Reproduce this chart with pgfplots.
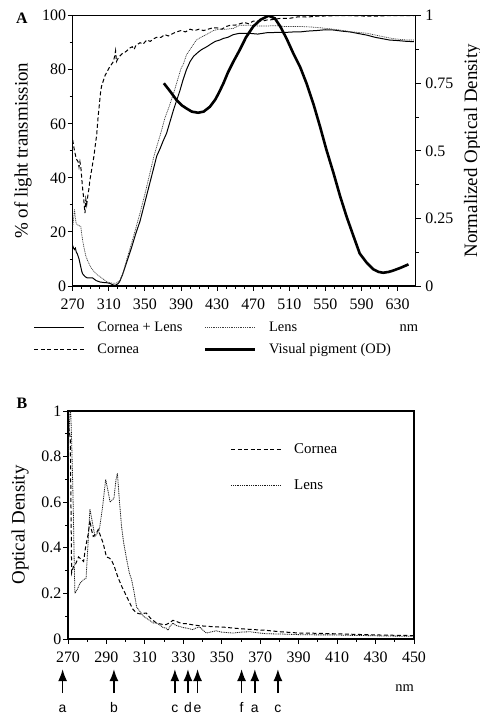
\documentclass[border=0pt]{standalone}
\usepackage{fontspec}
\setmainfont{Liberation Serif}
\setsansfont{Liberation Sans}
\usepackage{pgfplots}
\pgfplotsset{compat=1.18}
\usetikzlibrary{arrows.meta}

\pgfplotsset{
  myax/.style={
    scale only axis,
    /pgf/number format/assume math mode=true,
    tick align=outside,
    major tick length=5bp,
    minor tick length=3bp,
    axis line style={line width=1.1bp},
    every tick/.style={line width=0.9bp, black},
    ticklabel style={font=\fontsize{16}{18}\selectfont, inner sep=1.5bp},
    label style={font=\fontsize{19}{22}\selectfont},
  },
  corneastyle/.style={black, line width=1bp, dash pattern=on 4bp off 2.5bp},
  lensstyle/.style={black!75, line width=0.7bp, dash pattern=on 1bp off 0.8bp},
  clstyle/.style={black, line width=1bp},
  vpstyle/.style={black, line width=2.6bp},
}

\begin{document}
\begin{tikzpicture}
\useasboundingbox (0,0) rectangle (480bp,714bp);

% ---------------- Panel A ----------------
\begin{axis}[myax,
  at={(72.7bp,428bp)}, anchor=south west,
  width=343bp, height=270.3bp,
  xmin=270, xmax=650, ymin=0, ymax=100,
  xtick={270,310,...,630}, minor x tick num=3,
  ytick={0,20,...,100}, minor y tick num=1,
  xtick pos=bottom, ytick pos=left,
  xticklabel style={yshift=-6bp},
  ylabel={\% of light transmission},
  ylabel style={at={(axis description cs:0,0.5)}, yshift=49.7bp, anchor=center},
  clip mode=individual,
  legend columns=2,
  legend cell align=left,
  legend image code/.code={\draw[#1] (0bp,0bp) -- (50bp,0bp);},
  legend style={at={(axis description cs:0,0)}, anchor=north west,
    xshift=-39bp, yshift=-34bp, draw=none, fill=none, inner sep=0pt,
    font=\fontsize{14.5}{16}\selectfont,
    nodes={inner sep=1.5bp},
    row sep=8bp,
    /tikz/every odd column/.append style={column sep=11bp},
    /tikz/every even column/.append style={column sep=20bp}},
]
% Cornea + Lens
\addplot[clstyle] coordinates {
(270,15) (271,14) (272,13.5) (273,14) (274,12.5) (275,12) (276,11) (277,10) (278,8.5)
(279,7) (280,5.5) (281,4.5) (283.6,3.5) (286,3) (289,3) (292,3) (296,2) (300,1.5)
(304,1.3) (307.7,1.2) (311,1) (314,0.5) (317,0.2) (320,0.8) (322,1.6) (325,4) (330,9)
(335,14) (340,19.5) (344.6,24) (350,31) (355,37.5) (360,44) (363,48) (367,51)
(370,53.5) (374,56.5) (378,61) (382,65.5) (386,69.5) (389,72.5) (392,76) (396,80)
(400,83) (404,85) (409,86.5) (413,87.5) (418.5,88.5) (423,89.5) (428,90.5) (433,91)
(437,91.6) (442,92) (448,93) (455,93.5) (465,93.5) (475,93.2) (485,93.7) (495,93.8)
(505,93.8) (515,94) (522,94) (530,94.3) (540,94.5) (550,94.8) (559,94.7) (568,94.3)
(577,94) (585,93.5) (596,92.8) (605,92) (613,91.5) (621,91) (630,90.8) (640,90.5) (648,90.4)
};
\addlegendentry{Cornea + Lens}
% Lens
\addplot[lensstyle] coordinates {
(270,22) (271,25) (272,28.5) (273,25) (274,23) (276,22.5) (279,22) (280,19) (282,15)
(284.6,11) (287,9) (290,7) (292,6) (296,4.5) (300,3.5) (304,2.5) (307.7,1.6) (311,1.2)
(315,1) (318,1) (322,2) (326,5) (330,10) (335,15.5) (340,21.5) (344.6,27) (350,34)
(355,41) (360,48) (363,51.5) (368,57) (372,62) (377,66.5) (381.5,71) (386,76)
(390,80.5) (392.6,82) (396,85.5) (400,87.5) (404,89.5) (407,91) (412,92) (418,93)
(425.8,94.5) (432,95) (440,95) (448,95.3) (455,96.5) (465,96.5) (475,96.2) (485,96.2)
(495,96.3) (505,96) (515,96) (522,96) (535,95.8) (545,95.5) (559,95) (570,94.5)
(580,94) (596,93.5) (610,92.5) (625,91.5) (640,91) (648,91)
};
\addlegendentry{Lens}
% Cornea
\addplot[corneastyle] coordinates {
(270,54) (271,52) (272,50) (274,47) (276,46) (277,44) (278,46) (279,44) (280,40)
(281,36) (282,33) (283,29) (283.6,27) (284.5,32) (285.5,30) (287,34) (288,36) (289,39)
(290,41) (291,43) (292,45) (293.5,48) (295,52) (296.6,56) (298,62) (299.5,67) (301,72)
(302,74) (304,76) (306,78) (307.7,79) (310,80.5) (313,82) (315,83) (316.5,85)
(317.5,87) (318.5,83) (320,84) (322,85) (325,86) (328,86.5) (330,87) (333,88)
(336,88.5) (338,87.5) (340,89) (344.6,90) (348,89.5) (352,91) (356,90.5) (360,91.5)
(363,92) (368,92) (372,93) (376,92.5) (381.5,93.5) (385,94) (390,94.5) (395,94)
(400,95) (405,94.5) (410,95) (415,94.5) (420,95) (425,95.5) (430,95.5) (435,95)
(440,96) (445,96.5) (450,96.5) (455,97) (460,97.5) (465,97) (470,98) (480,98)
(485,98.4) (490,98.5) (500,99) (510,99) (520,99.6) (530,99.5) (540,99.8) (560,100)
(580,100) (600,99.8) (620,100) (640,100) (648,100)
};
\addlegendentry{Cornea}
\addlegendimage{vpstyle}
\addlegendentry{Visual pigment (OD)}
\node[font=\fontsize{14.5}{16}\selectfont, anchor=center] at (axis description cs:0.98,-0.155) {nm};
\node[font=\bfseries\fontsize{16}{18}\selectfont, anchor=center] at (axis description cs:-0.148,0.99) {A};
\end{axis}

\begin{axis}[myax,
  at={(72.7bp,428bp)}, anchor=south west,
  width=343bp, height=270.3bp,
  xmin=270, xmax=650, ymin=0, ymax=1,
  axis x line=none,
  axis y line*=right,
  ytick={0,0.25,0.5,0.75,1}, minor y tick num=1,
  yticklabel style={xshift=3bp},
  ylabel={Normalized Optical Density},
  ylabel style={at={(axis description cs:1,0.5)}, yshift=-57bp, anchor=center},
]
\addplot[vpstyle] coordinates {
(371,0.75) (378,0.72) (385,0.688) (391,0.668) (396,0.657) (402,0.645) (409,0.641)
(415,0.645) (422,0.663) (428,0.69) (432,0.715) (437,0.75) (442,0.79) (448,0.83)
(455,0.873) (462,0.92) (470,0.96) (478,0.985) (487,1.0) (494,0.99) (500,0.96)
(507,0.915) (514.5,0.86) (522,0.81) (529,0.75) (537,0.67) (544,0.59) (551,0.505)
(559,0.417) (566,0.335) (573.5,0.256) (581,0.185) (588,0.12) (596,0.085) (603,0.062)
(609,0.052) (614,0.049) (620,0.052) (625,0.057) (633,0.067) (642,0.08)
};
\end{axis}

% ---------------- Panel B ----------------
\begin{axis}[myax,
  at={(68bp,75bp)}, anchor=south west,
  width=346bp, height=228bp,
  xmin=270, xmax=450, ymin=0, ymax=1,
  xtick={270,290,...,450}, minor x tick num=1,
  ytick={0,0.2,...,1}, minor y tick num=1,
  xtick pos=bottom, ytick pos=left,
  xticklabel style={yshift=-6bp},
  ylabel={Optical Density},
  ylabel style={at={(axis description cs:0,0.5)}, yshift=48bp, anchor=center},
  clip mode=individual,
  legend cell align=left,
  legend image code/.code={\draw[#1] (0bp,0bp) -- (50bp,0bp);},
  legend style={at={(axis description cs:0,1)}, anchor=north west,
    xshift=162.5bp, yshift=-31bp, draw=none, fill=none, inner sep=0pt,
    font=\fontsize{15}{17}\selectfont,
    nodes={inner sep=1.5bp},
    row sep=22bp,
    /tikz/every odd column/.append style={column sep=11bp}},
]
\addplot[corneastyle] coordinates {
(270,0.88) (270.5,0.92) (271.2,0.88) (271.9,0.29) (272.8,0.317) (274,0.33) (275.5,0.36)
(276.8,0.35) (278.1,0.34) (279.2,0.405) (280.5,0.46) (281.4,0.52) (282.2,0.48)
(283.1,0.45) (284.5,0.46) (285.7,0.48) (287,0.45) (288.3,0.42) (290,0.36) (291.5,0.355)
(292.6,0.346) (294,0.32) (296,0.27) (298,0.23) (300.3,0.19) (302,0.16) (303.8,0.13)
(305.5,0.115) (307.4,0.11) (309,0.112) (310.7,0.114) (313,0.09) (316,0.07) (318.5,0.065)
(321,0.063) (323,0.072) (324.6,0.082) (327,0.075) (329,0.068) (331.6,0.067) (335,0.062)
(338.5,0.058) (342,0.056) (347,0.053) (351,0.052) (355.8,0.048) (360,0.045) (365,0.042)
(373,0.038) (380,0.032) (390.5,0.026) (400,0.025) (408,0.023) (417,0.021) (425,0.019)
(435,0.017) (449.5,0.015)
};
\addlegendentry{Cornea}
\addplot[lensstyle, black!90, line width=0.8bp] coordinates {
(270,0.77) (270.5,0.9) (271,0.99) (271.4,1.0) (271.9,0.87) (272.4,0.7) (272.8,0.55)
(273.2,0.35) (273.6,0.2) (275,0.22) (276.2,0.244) (278,0.26) (279.4,0.266) (280.3,0.4)
(281.4,0.57) (282.5,0.52) (284,0.45) (285,0.46) (286.3,0.48) (288,0.58) (289.6,0.70)
(290.8,0.65) (291.9,0.60) (293,0.61) (293.9,0.617) (295,0.7) (295.7,0.727) (296.8,0.6)
(297.9,0.49) (299,0.42) (300.5,0.35) (301.9,0.29) (303.1,0.26) (304.5,0.2) (305.7,0.14)
(307.5,0.12) (309.2,0.1) (311,0.09) (314.4,0.07) (316,0.07) (318,0.06) (319.5,0.05)
(321,0.048) (322,0.038) (323,0.055) (324.6,0.07) (326,0.06) (328,0.055) (330,0.05)
(331.6,0.048) (333,0.045) (335,0.041) (336.5,0.048) (338.5,0.053) (340,0.04) (342,0.026)
(344,0.03) (347,0.036) (350,0.03) (353,0.028) (355.8,0.026) (360,0.03) (364.5,0.032)
(368,0.028) (373,0.023) (380,0.022) (390.5,0.019) (400,0.018) (408,0.018) (417,0.016)
(425,0.015) (435,0.013) (449.5,0.012)
};
\addlegendentry{Lens}
% absorption-band arrows below the axis
\addplot[black, line width=1.5bp, clip=false,
  quiver={u=\thisrow{u}, v=\thisrow{v}},
  -{Latex[length=12bp, width=9bp]}] table {
x y u v
267.2 -0.237 0 0.105
293.9 -0.237 0 0.105
325.6 -0.237 0 0.105
332.4 -0.237 0 0.105
337.4 -0.237 0 0.105
360.3 -0.237 0 0.105
367.2 -0.237 0 0.105
379.2 -0.237 0 0.105
};
\addplot[draw=none, clip=false, nodes near coords, point meta=explicit symbolic,
  nodes near coords style={anchor=base, inner sep=0pt, font=\sffamily\fontsize{14}{16}\selectfont}]
  table[meta=lab] {
x y lab
267.2 -0.322 a
293.9 -0.322 b
325.6 -0.322 c
332.4 -0.322 d
337.4 -0.322 e
360.3 -0.322 f
367.2 -0.322 a
379.2 -0.322 c
};
\node[font=\fontsize{14.5}{16}\selectfont, anchor=center] at (axis description cs:0.973,-0.215) {nm};
\node[font=\bfseries\fontsize{16}{18}\selectfont, anchor=center] at (axis description cs:-0.133,1.035) {B};
\end{axis}
\end{tikzpicture}
\end{document}
